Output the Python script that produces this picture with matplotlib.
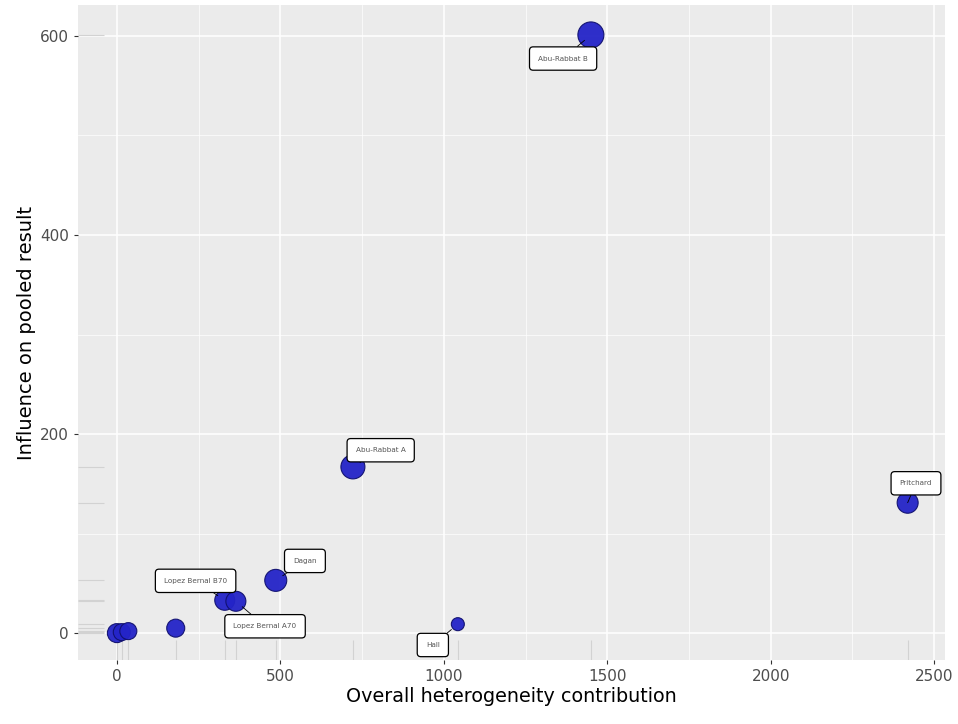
import numpy as np
import matplotlib.pyplot as plt
from matplotlib.transforms import blended_transform_factory

# Baujat plot data: heterogeneity contribution (x) vs influence (y)
studies = ["", "", "", "", "Lopez Bernal B70", "Lopez Bernal A70", "Dagan",
           "Abu-Rabbat A", "Hall", "Abu-Rabbat B", "Pritchard"]
het_contrib = [0, 15, 35, 180, 330, 364, 486, 722, 1043, 1450, 2419]
influence = [0, 1, 2, 5, 33, 32, 53, 167, 9, 601, 131]
point_size = [19, 17, 17, 18, 20, 20, 22, 24, 13, 26, 21]  # study weight -> diameter

# label offsets in points (x, y)
label_offsets = {
    "Lopez Bernal B70": (-21, 14),
    "Lopez Bernal A70": (21, -18),
    "Dagan": (21, 14),
    "Abu-Rabbat A": (20, 12),
    "Hall": (-18, -15),
    "Abu-Rabbat B": (-20, -17),
    "Pritchard": (6, 14),
}

fig = plt.figure(figsize=(9.58, 7.24), dpi=100)
ax = fig.add_axes([0.0814, 0.0884, 0.9046, 0.9046])
ax.set_facecolor("#EBEBEB")
for s in ax.spines.values():
    s.set_visible(False)

ax.set_xlim(-119, 2532)
ax.set_ylim(-27, 631)
ax.set_xticks([0, 500, 1000, 1500, 2000, 2500])
ax.set_yticks([0, 200, 400, 600])
ax.set_xticks([250, 750, 1250, 1750, 2250], minor=True)
ax.set_yticks([100, 300, 500], minor=True)
ax.grid(which="major", color="white", linewidth=1.1)
ax.grid(which="minor", color="white", linewidth=0.5)
ax.set_axisbelow(True)
ax.tick_params(which="major", length=3, color="#333333", labelsize=11, labelcolor="#4D4D4D")
ax.tick_params(which="minor", length=0)

# rugs
tx = blended_transform_factory(ax.transData, ax.transAxes)
ty = blended_transform_factory(ax.transAxes, ax.transData)
ax.vlines(het_contrib, 0, 0.03, transform=tx, color="#D2D2D2", linewidth=0.8, zorder=1)
ax.hlines(influence, 0, 0.03, transform=ty, color="#D2D2D2", linewidth=0.8, zorder=1)

sizes = [(d * 0.72) ** 2 for d in point_size]
ax.scatter(het_contrib, influence, s=sizes, color="#2424C8", edgecolor="#10106E",
           linewidth=0.8, alpha=0.95, zorder=3)

for name, x, y in zip(studies, het_contrib, influence):
    if not name:
        continue
    dx, dy = label_offsets[name]
    ax.annotate(name, (x, y), xytext=(dx, dy), textcoords="offset points",
                ha="center", va="center", fontsize=5.2, color="#555555",
                bbox=dict(boxstyle="round,pad=1.2,rounding_size=0.5", fc="white",
                          ec="black", lw=0.9),
                arrowprops=dict(arrowstyle="-", color="black", lw=0.6,
                                shrinkA=0, shrinkB=6),
                zorder=4)

ax.set_xlabel("Overall heterogeneity contribution", fontsize=13.8, labelpad=2)
ax.set_ylabel("Influence on pooled result", fontsize=14, labelpad=3)

fig.savefig("out.png", dpi=100)
